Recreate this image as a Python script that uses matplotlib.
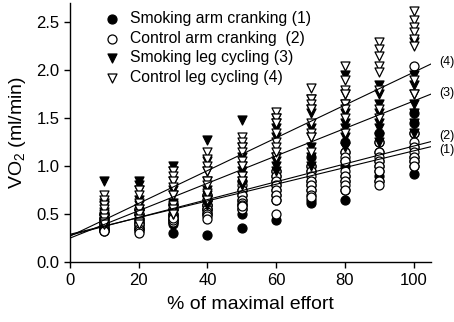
import numpy as np
import matplotlib
matplotlib.use("Agg")
import matplotlib.pyplot as plt

plt.rcParams['font.family'] = ['Liberation Sans', 'DejaVu Sans']
plt.rcParams['mathtext.fontset'] = 'custom'
plt.rcParams['mathtext.rm'] = 'Liberation Sans'
plt.rcParams['mathtext.it'] = 'Liberation Sans'

effort = [10, 20, 30, 40, 50, 60, 70, 80, 90, 100]

# VO2 readings per effort level, one row per level
smoking_arm = [
    [0.50, 0.45, 0.42, 0.40, 0.38, 0.35, 0.33, 0.32],
    [0.55, 0.50, 0.45, 0.42, 0.40, 0.38, 0.36, 0.35],
    [0.62, 0.55, 0.50, 0.48, 0.45, 0.42, 0.40, 0.30],
    [0.70, 0.65, 0.60, 0.60, 0.55, 0.55, 0.50, 0.28],
    [0.85, 0.75, 0.70, 0.65, 0.60, 0.55, 0.50, 0.36],
    [0.95, 0.90, 0.85, 0.80, 0.75, 0.70, 0.65, 0.44],
    [1.10, 1.00, 0.95, 0.85, 0.80, 0.75, 0.65, 0.62],
    [1.25, 1.15, 1.05, 1.00, 0.90, 0.85, 0.75, 0.65],
    [1.35, 1.25, 1.15, 1.05, 1.00, 0.95, 0.90, 0.85],
    [1.55, 1.45, 1.35, 1.20, 1.10, 1.05, 1.00, 0.92],
]
control_arm = [
    [0.50, 0.46, 0.42, 0.40, 0.37, 0.35, 0.33, 0.32],
    [0.55, 0.50, 0.45, 0.42, 0.40, 0.35, 0.32, 0.30],
    [0.60, 0.55, 0.50, 0.48, 0.45, 0.42, 0.44, 0.46],
    [0.70, 0.65, 0.60, 0.55, 0.52, 0.50, 0.48, 0.45],
    [0.80, 0.75, 0.70, 0.65, 0.62, 0.60, 0.55, 0.58],
    [0.95, 0.90, 0.85, 0.80, 0.75, 0.70, 0.65, 0.50],
    [1.00, 0.95, 0.90, 0.85, 0.80, 0.75, 0.70, 0.68],
    [1.15, 1.10, 1.05, 0.95, 0.90, 0.85, 0.80, 0.75],
    [1.25, 1.15, 1.10, 1.05, 1.00, 0.95, 0.85, 0.80],
    [2.05, 1.35, 1.25, 1.20, 1.15, 1.10, 1.05, 1.00],
]
smoking_leg = [
    [0.85, 0.62, 0.58, 0.52, 0.48, 0.45, 0.42, 0.40],
    [0.85, 0.80, 0.75, 0.65, 0.60, 0.55, 0.50, 0.45],
    [1.00, 0.95, 0.85, 0.75, 0.70, 0.62, 0.55, 0.50],
    [1.27, 1.05, 0.95, 0.85, 0.75, 0.70, 0.65, 0.60],
    [1.48, 1.20, 1.10, 1.00, 0.95, 0.90, 0.85, 0.80],
    [1.50, 1.45, 1.40, 1.30, 1.10, 1.05, 1.00, 0.95],
    [1.70, 1.60, 1.55, 1.40, 1.30, 1.20, 1.10, 1.00],
    [1.95, 1.75, 1.65, 1.55, 1.45, 1.40, 1.30, 1.20],
    [1.85, 1.75, 1.65, 1.55, 1.45, 1.40, 1.30, 1.25],
    [2.30, 1.95, 1.85, 1.75, 1.65, 1.55, 1.45, 1.35],
]
control_leg = [
    [0.70, 0.65, 0.60, 0.55, 0.50, 0.46, 0.42, 0.40],
    [0.75, 0.70, 0.62, 0.55, 0.50, 0.45, 0.42, 0.40],
    [0.95, 0.90, 0.85, 0.78, 0.70, 0.60, 0.55, 0.50],
    [1.15, 1.08, 1.00, 0.95, 0.85, 0.80, 0.72, 0.65],
    [1.30, 1.25, 1.20, 1.15, 1.05, 1.00, 0.90, 0.85],
    [1.57, 1.50, 1.45, 1.35, 1.25, 1.20, 1.10, 1.15],
    [1.82, 1.70, 1.65, 1.60, 1.45, 1.35, 1.30, 1.15],
    [2.05, 1.90, 1.80, 1.75, 1.65, 1.60, 1.50, 1.35],
    [2.30, 2.22, 2.15, 2.05, 1.98, 1.80, 1.60, 1.50],
    [2.62, 2.52, 2.45, 2.40, 2.33, 2.25, 1.90, 1.75],
]

labels = ["Smoking arm cranking (1)", "Control arm cranking  (2)",
          "Smoking leg cycling (3)", "Control leg cycling (4)"]
tags = ["(1)", "(2)", "(3)", "(4)"]
intercepts = [0.29, 0.28, 0.25, 0.27]
slopes = [0.0087, 0.0093, 0.0143, 0.0171]

groups = [smoking_arm, control_arm, smoking_leg, control_leg]
markers = ["o", "o", "v", "v"]
faces = ["black", "white", "black", "white"]

fig = plt.figure(figsize=(4.54, 3.22), dpi=100)
ax = fig.add_axes([0.154, 0.186, 0.795, 0.804])

for g, m, fc, lab in zip(groups, markers, faces, labels):
    xs = np.repeat(effort, [len(r) for r in g])
    ys = np.concatenate(g)
    ax.scatter(xs, ys, marker=m, s=42, facecolor=fc, edgecolor="black",
               linewidth=0.9, label=lab, zorder=3)

xl = np.array([0, 106])
for a, b, t, yoff in zip(intercepts, slopes, tags, [-0.04, 0.05, 0.0, 0.0]):
    ax.plot(xl, a + b * xl, color="black", linewidth=0.8, zorder=4)
    ax.text(107.5, a + b * 106 + yoff, t, fontsize=9, va="center", ha="left",
            clip_on=False)

ax.set_xlim(0, 105)
ax.set_ylim(0, 2.7)
ax.set_xticks([0, 20, 40, 60, 80, 100])
ax.set_yticks([0, 0.5, 1.0, 1.5, 2.0, 2.5])
ax.set_yticklabels(["0.0", "0.5", "1.0", "1.5", "2.0", "2.5"])
ax.spines["top"].set_visible(False)
ax.spines["right"].set_visible(False)
ax.spines["left"].set_linewidth(1.0)
ax.spines["bottom"].set_linewidth(1.0)
ax.tick_params(labelsize=12, length=4, width=1.0)
ax.set_xlabel("% of maximal effort", fontsize=14, labelpad=6)
ax.set_ylabel("VO$_2$ (ml/min)", fontsize=14, labelpad=6)

leg = ax.legend(loc="upper left", bbox_to_anchor=(0.05, 1.0), frameon=False,
                fontsize=11.3, labelspacing=0.3, handletextpad=0.15,
                borderaxespad=0.1, scatterpoints=1)

fig.savefig("out.png", dpi=100)
